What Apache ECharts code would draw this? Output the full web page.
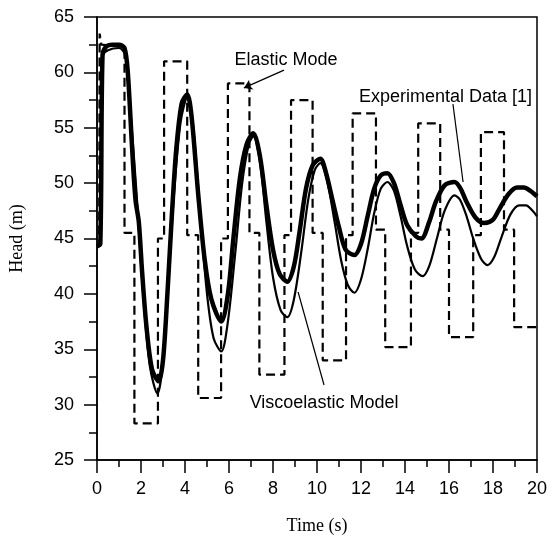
<!DOCTYPE html>
<html>
<head><meta charset="utf-8"></head>
<script type="text/javascript" src="https://cdn.jsdelivr.net/npm/echarts@6/dist/echarts.min.js"></script>
<body style="margin:0;background-color:white;">
<div id="main" style="width:558px;height:541px;"></div>
</body>
<script>
// 弹性模型 (方波)
var elasticT = [0, 0.1, 0.12, 0.2, 1.25, 1.25, 1.7, 1.7, 2.77, 2.77, 3.05, 3.05, 4.1, 4.1, 4.6, 4.6, 5.64, 5.64, 5.95, 5.95,
    6.93, 6.93, 7.38, 7.38, 8.52, 8.52, 8.82, 8.82, 9.8, 9.8, 10.26, 10.26, 11.32, 11.32, 11.62, 11.62, 12.68, 12.68,
    13.1, 13.1, 14.27, 14.27, 14.6, 14.6, 15.6, 15.6, 16.0, 16.0, 17.1, 17.1, 17.45, 17.45, 18.5, 18.5, 18.96, 18.96, 20];
var elasticH = [44.3, 44.3, 63.5, 62.5, 62.3, 45.5, 45.5, 28.3, 28.3, 45, 45, 61, 61, 45.3, 45.3, 30.6, 30.6, 45, 45, 59,
    59, 45.5, 45.5, 32.7, 32.7, 45.3, 45.3, 57.5, 57.5, 45.5, 45.5, 34, 34, 45.3, 45.3, 56.3, 56.3, 45.8,
    45.8, 35.2, 35.2, 45.5, 45.5, 55.4, 55.4, 45.8, 45.8, 36.1, 36.1, 45.3, 45.3, 54.6, 54.6, 45.8, 45.8, 37, 37];

// 实验数据
var expT = [0, 0.15, 0.25, 0.4, 0.7, 1.0, 1.25, 1.4, 1.6, 1.75, 1.9, 2.05, 2.25, 2.5, 2.8, 3.0, 3.2, 3.4, 3.6, 3.85, 4.1,
    4.3, 4.6, 4.9, 5.2, 5.65, 5.95, 6.2, 6.5, 6.8, 7.1, 7.4, 7.7, 8.0, 8.3, 8.65, 8.95, 9.2, 9.5, 9.8, 10.15, 10.4, 10.7,
    11.0, 11.3, 11.7, 12.0, 12.3, 12.6, 12.9, 13.2, 13.5, 13.8, 14.1, 14.5, 14.75, 15.1, 15.4, 15.8, 16.25, 16.5, 16.8,
    17.2, 17.6, 18.0, 18.3, 18.7, 19.1, 19.4, 19.7, 20];
var expH = [44.3, 44.5, 61.5, 62.3, 62.5, 62.5, 62.2, 60, 53, 48.5, 46.5, 42, 37, 33.2, 32.1, 34, 40, 47, 53, 57.2, 58,
    56, 49, 43, 39.5, 37.5, 40, 45, 50.5, 53.5, 54.5, 52.5, 48, 44, 41.8, 41.1, 42.5, 45.5, 49.5, 51.6, 52.2, 51, 48.5,
    46, 44, 43.5, 44.5, 47, 49.5, 50.7, 50.9, 50, 48, 46.2, 45.2, 45, 46.5, 48.3, 49.8, 50.1, 49.6, 48.3,
    46.9, 46.4, 46.7, 47.7, 49.0, 49.6, 49.6, 49.3, 48.8];

// 粘弹性模型
var viscoT = [0, 0.15, 0.25, 0.5, 1.0, 1.3, 1.5, 1.8, 2.1, 2.4, 2.75, 2.95, 3.2, 3.5, 3.8, 4.1, 4.35, 4.7, 5.0, 5.3, 5.65,
    5.95, 6.3, 6.6, 6.9, 7.1, 7.4, 7.7, 8.0, 8.35, 8.65, 8.95, 9.3, 9.6, 9.9, 10.15, 10.45, 10.8, 11.1, 11.4, 11.7, 12.0,
    12.3, 12.6, 12.9, 13.2, 13.5, 13.8, 14.1, 14.45, 14.8, 15.1, 15.45, 15.8, 16.25, 16.5, 16.8, 17.1, 17.45, 17.75,
    18.05, 18.4, 18.8, 19.2, 19.5, 19.8, 20];
var viscoH = [44.3, 44.5, 61.5, 62.0, 62.2, 61.5, 57, 49, 40, 33.5, 31, 33, 40, 49, 55.5, 57.7, 55.5, 47, 40, 36, 34.8,
    37.5, 44, 50, 53.5, 54.2, 52, 46.5, 41.5, 38.5, 37.9, 39.5, 44, 48.5, 51.2, 51.8, 50.3, 46.5, 43, 40.8, 40.1, 41.3,
    44, 47.3, 49.5, 50.1, 49.3, 47, 44.3, 42.2, 41.6, 42.5, 45, 47.5, 48.9, 48.5, 47, 45, 43.2, 42.6,
    43.3, 45.2, 47.2, 48.0, 48.0, 47.5, 47.0];

function pairs(t, h) { return t.map(function (v, i) { return [v, h[i]]; }); }

var myChart = echarts.init(document.getElementById('main'));

var labelFont = { fontFamily: 'Liberation Sans', fontSize: 18, color: '#000' };

var option = {
    animation: false,
    backgroundColor: '#fff',
    grid: { left: 96, right: 21, top: 17, bottom: 81, show: true, borderColor: '#000', borderWidth: 1.5 },
    xAxis: {
        type: 'value', min: 0, max: 20, interval: 2,
        name: 'Time (s)', nameLocation: 'middle', nameGap: 57,
        nameTextStyle: { fontFamily: 'Liberation Serif', fontSize: 18, color: '#000' },
        axisLine: { show: true, lineStyle: { color: '#000', width: 1.5 } },
        axisTick: { show: true, inside: false, length: 13, lineStyle: { color: '#000', width: 1.5 } },
        minorTick: { show: true, splitNumber: 2, length: 7, lineStyle: { color: '#000', width: 1.5 } },
        axisLabel: Object.assign({ margin: 20 }, labelFont),
        splitLine: { show: false }
    },
    yAxis: {
        type: 'value', min: 25, max: 65, interval: 5,
        name: 'Head (m)', nameLocation: 'middle', nameGap: 71,
        nameTextStyle: { fontFamily: 'Liberation Serif', fontSize: 18, color: '#000' },
        axisLine: { show: true, lineStyle: { color: '#000', width: 1.5 } },
        axisTick: { show: true, inside: false, length: 13, lineStyle: { color: '#000', width: 1.5 } },
        minorTick: { show: true, splitNumber: 2, length: 8, lineStyle: { color: '#000', width: 1.5 } },
        axisLabel: Object.assign({ margin: 23 }, labelFont),
        splitLine: { show: false }
    },
    series: [
        {
            name: 'Elastic Mode', type: 'line', data: pairs(elasticT, elasticH),
            symbol: 'none', lineStyle: { color: '#000', width: 2.2, type: [9, 5] },
            markLine: {
                silent: true, symbol: ['none', 'arrow'], symbolSize: 8,
                lineStyle: { color: '#000', width: 1.2, type: 'solid' }, label: { show: false },
                data: [[{ coord: [8.5, 60.2] }, { coord: [6.68, 58.6] }]]
            }
        },
        {
            name: 'Experimental Data [1]', type: 'line', data: pairs(expT, expH), smooth: 0.3,
            symbol: 'none', lineStyle: { color: '#000', width: 4.5 },
            markLine: {
                silent: true, symbol: 'none',
                lineStyle: { color: '#000', width: 1.2, type: 'solid' }, label: { show: false },
                data: [[{ coord: [16.18, 57.14] }, { coord: [16.64, 50.1] }]]
            }
        },
        {
            name: 'Viscoelastic Model', type: 'line', data: pairs(viscoT, viscoH), smooth: 0.3,
            symbol: 'none', lineStyle: { color: '#000', width: 2.2 },
            markLine: {
                silent: true, symbol: 'none',
                lineStyle: { color: '#000', width: 1.2, type: 'solid' }, label: { show: false },
                data: [[{ coord: [9.14, 40.17] }, { coord: [10.32, 31.77] }]]
            }
        }
    ]
};

option && myChart.setOption(option);

// 注释文字
var notes = [
    { text: 'Elastic Mode', at: [8.59, 61.1] },
    { text: 'Experimental Data [1]', at: [15.84, 57.8] },
    { text: 'Viscoelastic Model', at: [10.32, 30.1] }
];
myChart.setOption({
    graphic: notes.map(function (n) {
        var p = myChart.convertToPixel({ gridIndex: 0 }, n.at);
        return {
            type: 'text', x: p[0], y: p[1],
            style: { text: n.text, font: '18px "Liberation Sans"', fill: '#000', align: 'center', verticalAlign: 'middle' }
        };
    })
});
</script>
</html>
